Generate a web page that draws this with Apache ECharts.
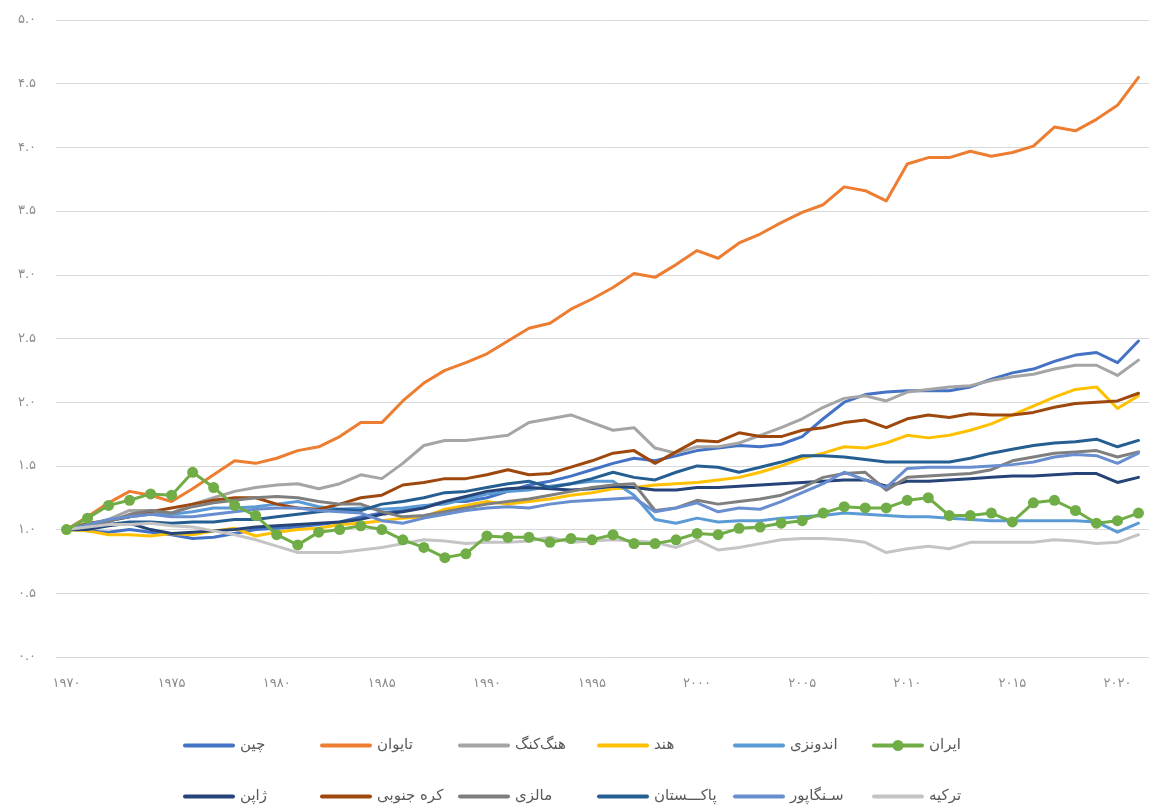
<!DOCTYPE html>
<html>
<head>
<meta charset="utf-8">
<script src="https://cdn.jsdelivr.net/npm/echarts@6/dist/echarts.min.js"></script>
<style>
html,body{margin:0;padding:0;background:#fff;overflow:hidden;}
#chart{width:1149px;height:805px;}
</style>
</head>
<body>
<div id="chart"></div>
<script>
const years = [];
for (let y = 1970; y <= 2021; y++) years.push(String(y));

const china = [1.00,0.99,0.98,1.00,0.98,0.96,0.93,0.94,0.97,1.00,
  1.01,1.02,1.04,1.06,1.10,1.13,1.15,1.18,1.22,1.22,
  1.25,1.30,1.35,1.38,1.42,1.47,1.52,1.56,1.54,1.58,
  1.62,1.64,1.66,1.65,1.67,1.73,1.87,2.00,2.06,2.08,
  2.09,2.09,2.09,2.12,2.18,2.23,2.26,2.32,2.37,2.39,
  2.31,2.48];
const taiwan = [1.00,1.10,1.21,1.30,1.27,1.22,1.32,1.43,1.54,1.52,
  1.56,1.62,1.65,1.73,1.84,1.84,2.01,2.15,2.25,2.31,
  2.38,2.48,2.58,2.62,2.73,2.81,2.90,3.01,2.98,3.08,
  3.19,3.13,3.25,3.32,3.41,3.49,3.55,3.69,3.66,3.58,
  3.87,3.92,3.92,3.97,3.93,3.96,4.01,4.16,4.13,4.22,
  4.33,4.55];
const hongKong = [1.00,1.03,1.08,1.15,1.15,1.13,1.20,1.25,1.30,1.33,
  1.35,1.36,1.32,1.36,1.43,1.40,1.52,1.66,1.70,1.70,
  1.72,1.74,1.84,1.87,1.90,1.84,1.78,1.80,1.64,1.60,
  1.65,1.65,1.68,1.74,1.80,1.87,1.96,2.03,2.05,2.01,
  2.08,2.10,2.12,2.13,2.17,2.20,2.22,2.26,2.29,2.29,
  2.21,2.33];
const india = [1.00,0.99,0.96,0.96,0.95,0.97,0.96,0.99,1.01,0.95,
  0.98,1.00,1.01,1.04,1.05,1.07,1.09,1.10,1.16,1.19,
  1.22,1.20,1.22,1.24,1.27,1.29,1.32,1.33,1.35,1.36,
  1.37,1.39,1.41,1.45,1.50,1.56,1.60,1.65,1.64,1.68,
  1.74,1.72,1.74,1.78,1.83,1.90,1.97,2.04,2.10,2.12,
  1.95,2.05];
const indonesia = [1.00,1.03,1.07,1.10,1.12,1.12,1.14,1.17,1.17,1.18,
  1.20,1.22,1.18,1.16,1.17,1.16,1.17,1.19,1.20,1.24,
  1.28,1.30,1.31,1.34,1.36,1.38,1.38,1.27,1.08,1.05,
  1.09,1.06,1.07,1.07,1.09,1.10,1.11,1.13,1.12,1.11,
  1.10,1.10,1.09,1.08,1.07,1.07,1.07,1.07,1.07,1.06,
  0.98,1.05];
const iran = [1.00,1.09,1.19,1.23,1.28,1.27,1.45,1.33,1.19,1.11,
  0.96,0.88,0.98,1.00,1.03,1.00,0.92,0.86,0.78,0.81,
  0.95,0.94,0.94,0.90,0.93,0.92,0.96,0.89,0.89,0.92,
  0.97,0.96,1.01,1.02,1.05,1.07,1.13,1.18,1.17,1.17,
  1.23,1.25,1.11,1.11,1.13,1.06,1.21,1.23,1.15,1.05,
  1.07,1.13];
const japan = [1.00,1.00,1.03,1.05,1.00,0.97,0.98,0.99,1.00,1.02,
  1.03,1.04,1.05,1.06,1.08,1.12,1.14,1.17,1.22,1.26,
  1.30,1.32,1.33,1.32,1.31,1.32,1.34,1.33,1.31,1.31,
  1.33,1.33,1.34,1.35,1.36,1.37,1.38,1.39,1.39,1.34,
  1.38,1.38,1.39,1.40,1.41,1.42,1.42,1.43,1.44,1.44,
  1.37,1.41];
const korea = [1.00,1.05,1.07,1.10,1.14,1.17,1.20,1.23,1.25,1.25,
  1.20,1.17,1.16,1.20,1.25,1.27,1.35,1.37,1.40,1.40,
  1.43,1.47,1.43,1.44,1.49,1.54,1.60,1.62,1.52,1.61,
  1.70,1.69,1.76,1.73,1.73,1.78,1.80,1.84,1.86,1.80,
  1.87,1.90,1.88,1.91,1.90,1.90,1.92,1.96,1.99,2.00,
  2.01,2.07];
const malaysia = [1.00,1.03,1.06,1.12,1.15,1.13,1.18,1.21,1.23,1.25,
  1.26,1.25,1.22,1.20,1.20,1.14,1.10,1.11,1.14,1.17,
  1.20,1.22,1.24,1.27,1.30,1.33,1.35,1.36,1.15,1.17,
  1.23,1.20,1.22,1.24,1.27,1.33,1.41,1.44,1.45,1.31,
  1.41,1.42,1.43,1.44,1.47,1.54,1.57,1.60,1.61,1.62,
  1.57,1.61];
const pakistan = [1.00,1.02,1.04,1.06,1.06,1.05,1.06,1.06,1.08,1.08,
  1.10,1.12,1.14,1.16,1.15,1.20,1.22,1.25,1.29,1.30,
  1.33,1.36,1.38,1.33,1.36,1.40,1.45,1.41,1.39,1.45,
  1.50,1.49,1.45,1.49,1.53,1.58,1.58,1.57,1.55,1.53,
  1.53,1.53,1.53,1.56,1.60,1.63,1.66,1.68,1.69,1.71,
  1.65,1.70];
const singapore = [1.00,1.04,1.08,1.10,1.12,1.10,1.10,1.12,1.14,1.16,
  1.17,1.17,1.15,1.14,1.13,1.07,1.05,1.09,1.12,1.15,
  1.17,1.18,1.17,1.20,1.22,1.23,1.24,1.25,1.14,1.17,
  1.21,1.14,1.17,1.16,1.22,1.29,1.36,1.45,1.39,1.33,
  1.48,1.49,1.49,1.49,1.50,1.51,1.53,1.57,1.59,1.58,
  1.52,1.60];
const turkey = [1.00,1.02,1.04,1.04,1.05,1.03,1.02,0.99,0.96,0.92,
  0.87,0.82,0.82,0.82,0.84,0.86,0.89,0.92,0.91,0.89,
  0.90,0.90,0.91,0.94,0.90,0.91,0.92,0.91,0.90,0.86,
  0.92,0.84,0.86,0.89,0.92,0.93,0.93,0.92,0.90,0.82,
  0.85,0.87,0.85,0.90,0.90,0.90,0.90,0.92,0.91,0.89,
  0.90,0.96];

const seriesNames = ['چین','تایوان','هنگ‌کنگ','هند','اندونزی','ایران',
  'ژاپن','کره جنوبی','مالزی','پاکـــستان','سـنگاپور','ترکیه'];
const legendRow1 = ['چین','تایوان','هنگ‌کنگ','هند','اندونزی','ایران'];
const legendRow2 = ['ژاپن','کره جنوبی','مالزی','پاکـــستان','سـنگاپور','ترکیه'];
const seriesData = [china, taiwan, hongKong, india, indonesia, iran,
  japan, korea, malaysia, pakistan, singapore, turkey];
const colors = ['#4472C4','#ED7D31','#A5A5A5','#FFC000','#5B9BD5','#70AD47',
  '#264478','#9E480E','#7F7F7F','#255E91','#698ED0','#C4C4C4'];

const fa = s => String(s).replace(/[0-9]/g, d => '۰۱۲۳۴۵۶۷۸۹'[d]);

const series = seriesNames.map((name, i) => {
  const isIran = name === 'ایران';
  return {
    name: name,
    type: 'line',
    data: seriesData[i],
    smooth: false,
    symbol: isIran ? 'circle' : 'none',
    symbolSize: isIran ? 11 : 0,
    showSymbol: isIran,
    z: isIran ? 5 : 2,
    lineStyle: { width: 3, color: colors[i], cap: 'round', join: 'round' },
    itemStyle: { color: colors[i] },
    emphasis: { disabled: true }
  };
});

const barIcon = 'path://M2,0 L50,0 A2,2 0 0 1 50,4 L2,4 A2,2 0 0 1 2,0 Z';
const barDotIcon = 'path://M2,4 L50,4 A2,2 0 0 1 50,8 L2,8 A2,2 0 0 1 2,4 Z M20.5,6 A5.5,5.5 0 1 1 31.5,6 A5.5,5.5 0 1 1 20.5,6 Z';
const legendItem = n => ({ name: n, icon: n === 'ایران' ? barDotIcon : barIcon });

const legendText = { fontFamily: 'DejaVu Sans', fontSize: 15, color: '#595959' };
const legendBase = { orient: 'horizontal', itemWidth: 52, itemHeight: 12, itemGap: 5, padding: 0,
  textStyle: legendText, selectedMode: false, symbolKeepAspect: true };

const colLeft = [183, 320, 458, 597, 733, 872];
const legends = [];
legendRow1.forEach((n, k) => legends.push(Object.assign({ data: [legendItem(n)], left: colLeft[k], top: 738 }, legendBase)));
legendRow2.forEach((n, k) => legends.push(Object.assign({ data: [legendItem(n)], left: colLeft[k], top: 789 }, legendBase)));

const chart = echarts.init(document.getElementById('chart'), null, { renderer: 'canvas' });
chart.setOption({
  animation: false,
  backgroundColor: '#ffffff',
  grid: { left: 56, right: -7, top: 20, bottom: 148, containLabel: false },
  xAxis: {
    type: 'category',
    data: years,
    boundaryGap: true,
    axisLine: { show: true, lineStyle: { color: '#d9d9d9', width: 1 } },
    axisTick: { show: false },
    axisLabel: {
      interval: 4,
      margin: 20,
      color: '#8c8c8c',
      fontSize: 13,
      fontFamily: 'DejaVu Sans',
      formatter: v => fa(v)
    },
    splitLine: { show: false }
  },
  yAxis: {
    type: 'value',
    min: 0, max: 5, interval: 0.5,
    axisLine: { show: false },
    axisTick: { show: false },
    axisLabel: {
      margin: 20,
      color: '#8c8c8c',
      fontSize: 13,
      fontFamily: 'DejaVu Sans',
      formatter: v => fa(v.toFixed(1))
    },
    splitLine: { show: true, lineStyle: { color: '#d9d9d9', width: 1 } }
  },
  legend: legends,
  series: series
});
</script>
</body>
</html>
